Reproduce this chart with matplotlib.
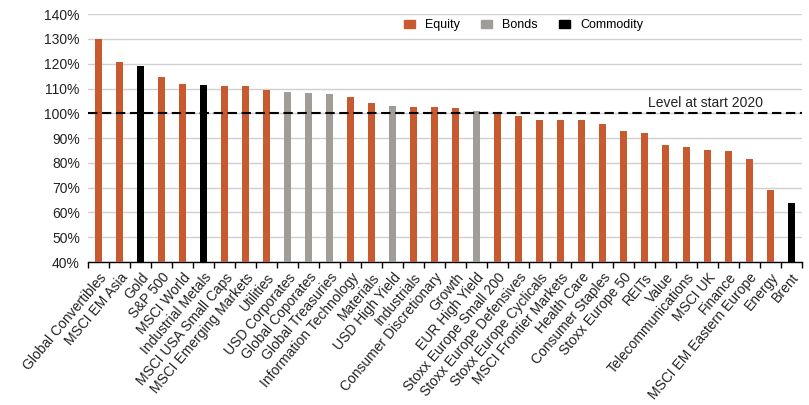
import numpy as np
import matplotlib.pyplot as plt
from matplotlib.patches import Patch

plt.rcParams['font.family'] = ['Liberation Sans', 'DejaVu Sans']

assets = ['Global Convertibles', 'MSCI EM Asia', 'Gold', 'S&P 500', 'MSCI World',
          'Industrial Metals', 'MSCI USA Small Caps', 'MSCI Emerging Markets', 'Utilities',
          'USD Corporates', 'Global Coporates', 'Global Treasuries', 'Information Technology',
          'Materials', 'USD High Yield', 'Industrials', 'Consumer Discretionary', 'Growth',
          'EUR High Yield', 'Stoxx Europe Small 200', 'Stoxx Europe Defensives',
          'Stoxx Europe Cyclicals', 'MSCI Frontier Markets', 'Health Care', 'Consumer Staples',
          'Stoxx Europe 50', 'REITs', 'Value', 'Telecommunications', 'MSCI UK', 'Finance',
          'MSCI EM Eastern Europe', 'Energy', 'Brent']
level = [130.0, 120.6, 119.0, 114.5, 111.8, 111.4, 111.2, 111.0, 109.4,
         108.5, 108.1, 107.7, 106.7, 104.0, 102.9, 102.5, 102.6, 102.1,
         100.9, 100.4, 98.9, 97.3, 97.3, 97.3, 95.5,
         92.7, 92.0, 87.3, 86.6, 85.4, 84.9, 81.4, 68.9, 63.8]
asset_class = ['Equity', 'Equity', 'Commodity', 'Equity', 'Equity', 'Commodity', 'Equity',
               'Equity', 'Equity', 'Bonds', 'Bonds', 'Bonds', 'Equity', 'Equity', 'Bonds',
               'Equity', 'Equity', 'Equity', 'Bonds', 'Equity', 'Equity', 'Equity', 'Equity',
               'Equity', 'Equity', 'Equity', 'Equity', 'Equity', 'Equity', 'Equity', 'Equity',
               'Equity', 'Equity', 'Commodity']

colors = {'Equity': '#C75A2E', 'Bonds': '#A09C98', 'Commodity': '#000000'}
base = 40

fig = plt.figure(figsize=(8.09, 4.05), dpi=100)
ax = fig.add_axes([0.109, 0.353, 0.882, 0.612])

x = np.arange(len(assets))
ax.bar(x, np.array(level) - base, bottom=base, width=0.33,
       color=[colors[c] for c in asset_class], zorder=3)

# reference level line
ax.axhline(100, color='black', linestyle=(0, (4.5, 2.2)), linewidth=1.5, zorder=4)
ax.text(28.9, 101.2, 'Level at start 2020', fontsize=10, ha='center', va='bottom', color='#222222')

ax.set_ylim(40, 140)
ax.set_xlim(-0.5, len(assets) - 0.5)
ax.set_yticks(np.arange(40, 141, 10))
ax.set_yticklabels(['%d%%' % v for v in np.arange(40, 141, 10)], fontsize=10, color='#222222')
ax.yaxis.grid(True, color='#D0D0D0', linewidth=1.0, zorder=0)
ax.tick_params(axis='y', length=0, pad=6)

ax.set_xticks(x)
ax.set_xticklabels(assets, rotation=50, ha='right', rotation_mode='anchor', fontsize=10,
                   color='#222222')
ax.set_xticks(np.arange(-0.5, len(assets), 1), minor=True)
ax.tick_params(axis='x', which='major', length=0, pad=6)
ax.tick_params(axis='x', which='minor', length=4, width=1, color='black')

for side in ['top', 'right', 'left']:
    ax.spines[side].set_visible(False)
ax.spines['bottom'].set_color('black')
ax.spines['bottom'].set_linewidth(1.0)

handles = [Patch(color=colors[k]) for k in ['Equity', 'Bonds', 'Commodity']]
ax.legend(handles, ['Equity', 'Bonds', 'Commodity'], loc='upper center',
          bbox_to_anchor=(0.61, 1.025), ncol=3, frameon=False, fontsize=9,
          handlelength=0.9, handleheight=0.55, columnspacing=1.7, handletextpad=0.8)

fig.savefig('out.png', dpi=100)
